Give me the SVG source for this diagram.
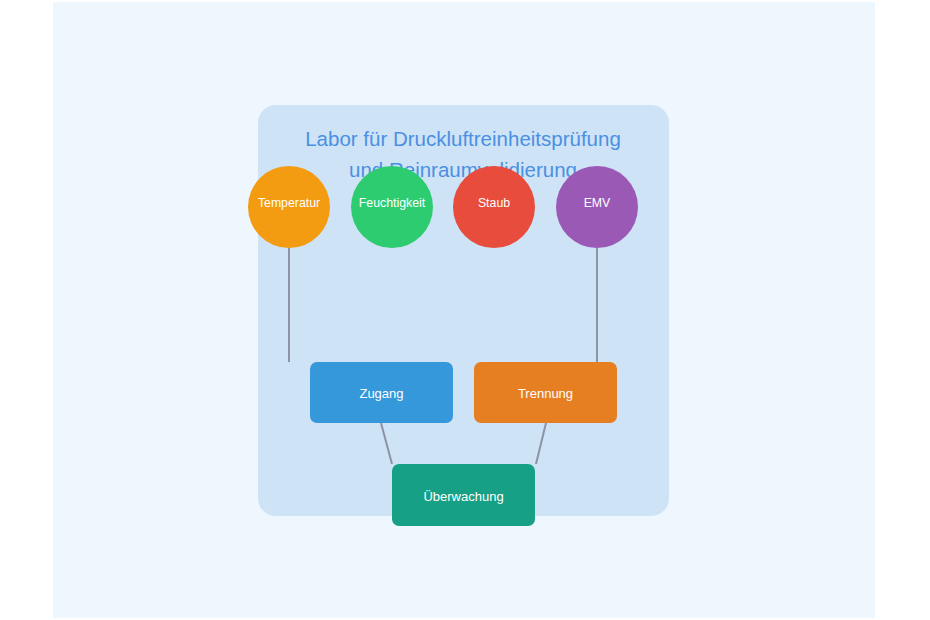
<svg xmlns="http://www.w3.org/2000/svg" width="930" height="620" viewBox="0 0 930 620">
<style>
.lbl{font-family:"Liberation Sans",Arial,sans-serif;fill:#ffffff;text-anchor:middle}
.c{font-size:12.3px}
.r{font-size:13px}
.title{font-family:"Liberation Sans",Arial,sans-serif;font-size:20.5px;fill:#4a90e2;text-anchor:middle}
.edge{stroke:#8a94a6;stroke-width:2;fill:none}
</style>
<rect x="0" y="0" width="930" height="620" fill="#ffffff"/>
<rect x="53" y="2" width="822" height="616" fill="#eef6fe"/>
<rect x="258" y="105" width="411" height="411" rx="18" fill="#cfe3f7"/>
<text class="title" x="463" y="146">Labor für Druckluftreinheitsprüfung</text>
<text class="title" x="463" y="177">und Reinraumvalidierung</text>
<g id="connectors">
<line class="edge" x1="289" y1="248" x2="289" y2="362"/>
<line class="edge" x1="597" y1="248" x2="597" y2="362"/>
<line class="edge" x1="381" y1="423" x2="392" y2="464"/>
<line class="edge" x1="546" y1="423" x2="536" y2="464"/>
</g>
<g id="temperatur"><circle cx="289" cy="207" r="41" fill="#f39c12"/><text class="lbl c" x="289" y="203" dy="0.35em">Temperatur</text></g>
<g id="feuchtigkeit"><circle cx="392" cy="207" r="41" fill="#2ecc71"/><text class="lbl c" x="392" y="203" dy="0.35em">Feuchtigkeit</text></g>
<g id="staub"><circle cx="494" cy="207" r="41" fill="#e74c3c"/><text class="lbl c" x="494" y="203" dy="0.35em">Staub</text></g>
<g id="emv"><circle cx="597" cy="207" r="41" fill="#9b59b6"/><text class="lbl c" x="597" y="203" dy="0.35em">EMV</text></g>
<g id="zugang"><rect x="310" y="362" width="143" height="61" rx="7" fill="#3498db"/><text class="lbl r" x="381.5" y="393" dy="0.35em">Zugang</text></g>
<g id="trennung"><rect x="474" y="362" width="143" height="61" rx="7" fill="#e67e22"/><text class="lbl r" x="545.5" y="393" dy="0.35em">Trennung</text></g>
<g id="ueberwachung"><rect x="392" y="464" width="143" height="62" rx="7" fill="#16a085"/><text class="lbl r" x="463.5" y="496" dy="0.35em">Überwachung</text></g>
</svg>
